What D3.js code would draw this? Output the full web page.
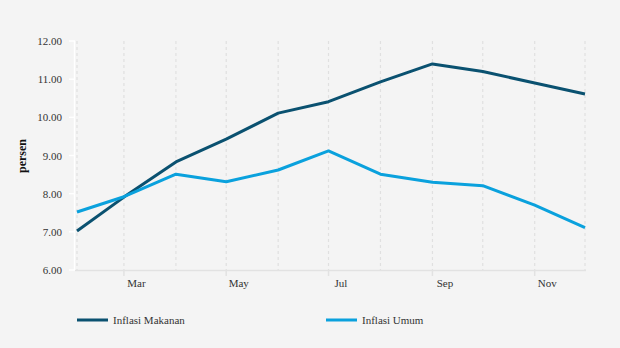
<!DOCTYPE html>
<html><head><meta charset="utf-8">
<script src="https://cdn.jsdelivr.net/npm/d3@7"></script>
<style>body{margin:0;background:#f4f4f4;}svg{display:block;} svg text{font-family:"Liberation Serif","DejaVu Serif",serif;}</style>
</head><body>
<svg id="c" width="620" height="348"></svg>
<script>
const dates = ["2022-02-01","2022-03-01","2022-04-01","2022-05-01","2022-06-01","2022-07-01","2022-08-01","2022-09-01","2022-10-01","2022-11-01","2022-12-01"];
const inflasiMakanan = [7.02, 7.91, 8.83, 9.43, 10.11, 10.41, 10.93, 11.40, 11.20, 10.90, 10.61];
const inflasiUmum = [7.52, 7.92, 8.51, 8.31, 8.62, 9.12, 8.51, 8.30, 8.21, 7.70, 7.11];
const yTicks = [6, 7, 8, 9, 10, 11, 12];
const xLabelDates = ["2022-03-01","2022-05-01","2022-07-01","2022-09-01","2022-11-01"];
const seriesNames = ["Inflasi Makanan", "Inflasi Umum"];
const colors = ["#0a5170", "#0aa1dd"];

const parse = d3.utcParse("%Y-%m-%d");
const xd = dates.map(parse);
const svg = d3.select("#c");
svg.append("rect").attr("width",620).attr("height",348).attr("fill","#f4f4f4");

const x = d3.scaleUtc().domain([xd[0], xd[xd.length-1]]).range([77, 585]);
const y = d3.scaleLinear().domain([6, 12]).range([270, 41]);

svg.append("g").selectAll("line").data(xd).join("line")
  .attr("x1", d=>x(d)).attr("x2", d=>x(d)).attr("y1", 41).attr("y2", 270)
  .attr("stroke","#e0e0e0").attr("stroke-width",1.2).attr("stroke-dasharray","3,3");

svg.append("line").attr("x1",75).attr("x2",586).attr("y1",270.5).attr("y2",270.5)
  .attr("stroke","#e2e2e2").attr("stroke-width",1.5);
const xl = xLabelDates.map(parse);
svg.append("g").selectAll("line").data(xl).join("line")
  .attr("x1", d=>x(d)).attr("x2", d=>x(d)).attr("y1",270).attr("y2",276)
  .attr("stroke","#e2e2e2").attr("stroke-width",1.5);
svg.append("g").selectAll("text").data(xl).join("text")
  .attr("x", d=>x(d)+12.5).attr("y", 287).attr("text-anchor","middle")
  .attr("font-size",11).attr("fill","#333").text(d=>d3.utcFormat("%b")(d));

svg.append("line").attr("x1",74.5).attr("x2",74.5).attr("y1",41).attr("y2",270)
  .attr("stroke","#ffffff").attr("stroke-width",1.5);
svg.append("g").selectAll("line").data(yTicks).join("line")
  .attr("x1",69).attr("x2",75).attr("y1",d=>y(d)).attr("y2",d=>y(d))
  .attr("stroke","#ffffff").attr("stroke-width",1.5);
svg.append("g").selectAll("text").data(yTicks).join("text")
  .attr("x",62).attr("y",d=>y(d)+4).attr("text-anchor","end")
  .attr("font-size",11).attr("fill","#333").text(d=>d3.format(".2f")(d));
svg.append("text").attr("transform","translate(26,156) rotate(-90)")
  .attr("text-anchor","middle").attr("font-size",12).attr("font-weight","bold")
  .attr("fill","#111").text("persen");

const line = d3.line().x((d,i)=>x(xd[i])).y(d=>y(d));
[inflasiMakanan, inflasiUmum].forEach((s,k)=>{
  svg.append("path").datum(s).attr("d",line).attr("fill","none")
    .attr("stroke",colors[k]).attr("stroke-width",3).attr("stroke-linejoin","round");
});

const legX = [77, 326];
seriesNames.forEach((n,k)=>{
  svg.append("line").attr("x1",legX[k]).attr("x2",legX[k]+31).attr("y1",320).attr("y2",320)
    .attr("stroke",colors[k]).attr("stroke-width",3);
  svg.append("text").attr("x",legX[k]+36).attr("y",324).attr("font-size",11)
    .attr("fill","#333").text(n);
});
</script>
</body></html>
